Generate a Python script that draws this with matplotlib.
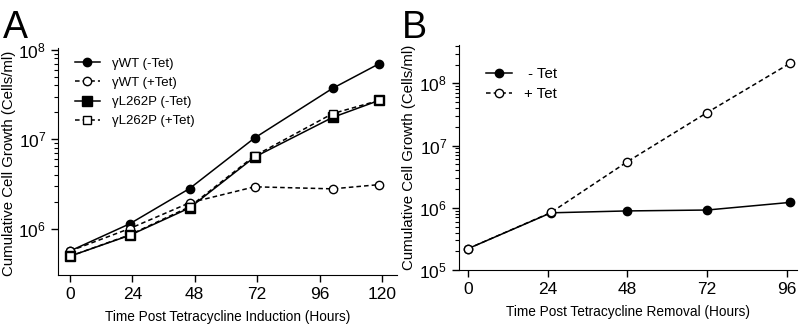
import matplotlib
matplotlib.use("Agg")
import matplotlib.pyplot as plt
from matplotlib.ticker import LogLocator, NullFormatter, FixedLocator

plt.rcParams['font.family'] = ['Liberation Sans', 'DejaVu Sans']
plt.rcParams['mathtext.fontset'] = 'custom'
plt.rcParams['mathtext.rm'] = 'Liberation Sans'
plt.rcParams['mathtext.it'] = 'Liberation Sans:italic'

# panel A data
hoursA = [0, 23, 46, 71, 101, 119]
wt_minus = [5.6e5, 1.13e6, 2.8e6, 1.03e7, 3.7e7, 7.0e7]
wt_plus = [5.6e5, 1.0e6, 1.94e6, 2.93e6, 2.78e6, 3.1e6]
l262p_minus = [4.9e5, 8.4e5, 1.70e6, 6.3e6, 1.75e7, 2.72e7]
l262p_plus = [4.9e5, 8.5e5, 1.75e6, 6.5e6, 1.93e7, 2.72e7]
labelsA = ['γWT (-Tet)', 'γWT (+Tet)', 'γL262P (-Tet)', 'γL262P (+Tet)']

# panel B data
hoursB = [0, 25, 48, 72, 97]
tet_minus = [2.2e5, 8.3e5, 8.9e5, 9.2e5, 1.22e6]
tet_plus = [2.2e5, 8.4e5, 5.5e6, 3.38e7, 2.1e8]
labelsB = [' - Tet', '+ Tet']

fig = plt.figure(figsize=(8.01, 3.25), dpi=100)
axA = fig.add_axes([58/801, 1-275/325, (397-58)/801, (275-48)/325])
axB = fig.add_axes([459/801, 1-270/325, (797-459)/801, (270-45)/325])

lw = 1.1
ms = 6
solid = dict(color='black', lw=lw, ls='-')
dashed = dict(color='black', lw=lw, ls=(0, (3, 2)))

axA.plot(hoursA, wt_minus, marker='o', ms=ms, mfc='black', mec='black', label=labelsA[0], **solid)
axA.plot(hoursA, wt_plus, marker='o', ms=ms, mfc='white', mec='black', label=labelsA[1], **dashed)
axA.plot(hoursA, l262p_minus, marker='s', ms=ms+1, mfc='black', mec='black', label=labelsA[2], **solid)
axA.plot(hoursA, l262p_plus, marker='s', ms=ms, mfc='white', mec='black', label=labelsA[3], **dashed)

axB.plot(hoursB, tet_minus, marker='o', ms=ms, mfc='black', mec='black', label=labelsB[0], **solid)
axB.plot(hoursB, tet_plus, marker='o', ms=ms, mfc='white', mec='black', label=labelsB[1], **dashed)

for ax in (axA, axB):
    ax.set_yscale('log')
    ax.spines['top'].set_visible(False)
    ax.spines['right'].set_visible(False)
    ax.tick_params(axis='both', which='major', direction='out', length=5, width=1, labelsize=12.5)
    ax.tick_params(axis='y', which='minor', direction='out', length=3, width=0.8)
    ax.yaxis.set_minor_formatter(NullFormatter())
    ax.set_ylabel('Cumulative Cell Growth (Cells/ml)', fontsize=10.8)

axA.set_xlim(-4.6, 125.8)
axA.set_ylim(10**5.48, 10**8.02)
axA.set_xticks([0, 24, 48, 72, 96, 120])
axA.yaxis.set_major_locator(FixedLocator([1e6, 1e7, 1e8]))
axA.yaxis.set_minor_locator(FixedLocator([m * 10**e for e in (6, 7) for m in range(2, 10)]))
axA.set_xlabel('Time Post Tetracycline Induction (Hours)', fontsize=9.8, labelpad=6)
axA.yaxis.set_label_coords(-0.124, 0.49)

axB.set_xlim(-2.7, 99.1)
axB.set_ylim(1e5, 10**8.616)
axB.set_xticks([0, 24, 48, 72, 96])
axB.yaxis.set_major_locator(FixedLocator([1e5, 1e6, 1e7, 1e8]))
axB.yaxis.set_minor_locator(LogLocator(base=10, subs=range(2, 10)))
axB.set_xlabel('Time Post Tetracycline Removal (Hours)', fontsize=9.8, labelpad=6)
axB.yaxis.set_label_coords(-0.127, 0.5)

axA.legend(loc='upper left', bbox_to_anchor=(0.05, 0.957), frameon=False, fontsize=9.5,
           borderaxespad=0, borderpad=0, handlelength=1.9, handletextpad=0.9,
           labelspacing=0.52)
axB.legend(loc='upper left', bbox_to_anchor=(0.08, 0.90), frameon=False, fontsize=10.8,
           borderaxespad=0, borderpad=0, handlelength=1.73, handletextpad=0.8,
           labelspacing=0.4)

fig.text(3/801, 1-38/325, 'A', fontsize=27, va='baseline', ha='left')
fig.text(402/801, 1-38/325, 'B', fontsize=27, va='baseline', ha='left')

fig.savefig('out.png', dpi=100)
